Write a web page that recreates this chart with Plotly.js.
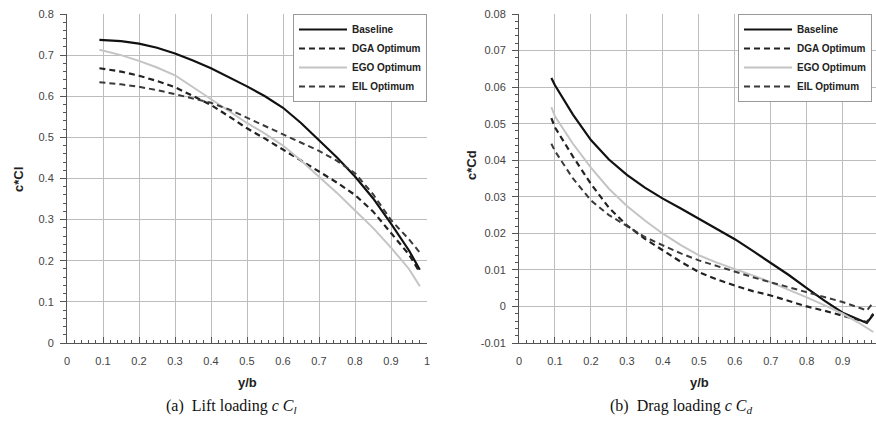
<!DOCTYPE html>
<html>
<head>
<meta charset="utf-8">
<script src="https://cdn.plot.ly/plotly-3.0.1.min.js"></script>
<style>html,body{margin:0;padding:0;background:#fff;overflow:hidden;}#chart{width:876px;height:426px;}</style>
</head>
<body>
<div id="chart"></div>
<script>
// ---------- Data: (a) Lift loading c*Cl ----------
const liftX = [0.09,0.15,0.2,0.25,0.3,0.35,0.4,0.45,0.5,0.55,0.6,0.65,0.7,0.75,0.8,0.85,0.9,0.95,0.98];
const liftBaseline = [0.737,0.734,0.728,0.718,0.704,0.687,0.668,0.647,0.624,0.600,0.572,0.535,0.494,0.451,0.405,0.352,0.290,0.225,0.178];
const liftDGA      = [0.668,0.660,0.650,0.637,0.622,0.601,0.579,0.551,0.522,0.497,0.471,0.445,0.417,0.390,0.360,0.320,0.268,0.215,0.172];
const liftEGO      = [0.713,0.700,0.686,0.670,0.651,0.622,0.592,0.563,0.535,0.509,0.480,0.444,0.405,0.365,0.322,0.280,0.232,0.180,0.138];
const liftEIL      = [0.634,0.629,0.623,0.615,0.605,0.595,0.584,0.568,0.548,0.527,0.507,0.488,0.467,0.443,0.413,0.362,0.299,0.252,0.220];

// ---------- Data: (b) Drag loading c*Cd ----------
const dragX = [0.09,0.1,0.15,0.2,0.25,0.3,0.35,0.4,0.45,0.5,0.55,0.6,0.65,0.7,0.75,0.8,0.85,0.9,0.95,0.967,0.985];
const dragBaseline = [0.0625,0.0605,0.0525,0.0455,0.0402,0.0360,0.0325,0.0295,0.0268,0.0240,0.0212,0.0184,0.0152,0.0120,0.0086,0.0050,0.0015,-0.0017,-0.0038,-0.0045,-0.0022];
const dragDGA      = [0.0515,0.0490,0.0410,0.0335,0.0270,0.0222,0.0185,0.0153,0.0122,0.0094,0.0074,0.0057,0.0042,0.0030,0.0015,0.0000,-0.0012,-0.0025,-0.0038,-0.0043,-0.0020];
const dragEGO      = [0.0545,0.0520,0.0445,0.0380,0.0322,0.0275,0.0235,0.0199,0.0168,0.0140,0.0120,0.0103,0.0085,0.0066,0.0046,0.0025,0.0003,-0.0020,-0.0048,-0.0058,-0.0070];
const dragEIL      = [0.0445,0.0425,0.0350,0.0290,0.0250,0.0220,0.0190,0.0167,0.0145,0.0126,0.0110,0.0094,0.0080,0.0066,0.0052,0.0039,0.0025,0.0012,-0.0005,-0.0011,0.0011];

// ---------- Names and tick labels ----------
const seriesNames = ["Baseline","DGA Optimum","EGO Optimum","EIL Optimum"];
const liftTickVals = [0,0.1,0.2,0.3,0.4,0.5,0.6,0.7,0.8];
const liftTickText = ["0","0.1","0.2","0.3","0.4","0.5","0.6","0.7","0.8"];
const dragTickVals = [-0.01,0,0.01,0.02,0.03,0.04,0.05,0.06,0.07,0.08];
const dragTickText = ["-0.01","0","0.01","0.02","0.03","0.04","0.05","0.06","0.07","0.08"];
const xTickVals = [0,0.1,0.2,0.3,0.4,0.5,0.6,0.7,0.8,0.9,1];
const xTickText = ["0","0.1","0.2","0.3","0.4","0.5","0.6","0.7","0.8","0.9","1"];

const styles = [
  {color:"#111111", width:2.2, dash:"solid"},
  {color:"#222222", width:2.2, dash:"6px,4px"},
  {color:"#c4c4c4", width:2, dash:"solid"},
  {color:"#3a3a3a", width:2, dash:"6px,4px"}
];

const liftSeries = [liftBaseline, liftDGA, liftEGO, liftEIL];
const dragSeries = [dragBaseline, dragDGA, dragEGO, dragEIL];

const traces = [];
liftSeries.forEach((ys,i)=>traces.push({
  x: liftX, y: ys, type:"scatter", mode:"lines", name: seriesNames[i],
  line: styles[i], xaxis:"x", yaxis:"y", legend:"legend"
}));
dragSeries.forEach((ys,i)=>traces.push({
  x: dragX, y: ys, type:"scatter", mode:"lines", name: seriesNames[i],
  line: styles[i], xaxis:"x2", yaxis:"y2", legend:"legend2"
}));

const W = 876, H = 426;
const tickFont = {family:"Liberation Sans, Arial, sans-serif", size:11, color:"#444"};
const gridColor = "#bdbdbd";
const axisLine = "#555";

function xAxis(domain, range){
  return {
    domain: domain, range: range, tickvals: xTickVals, ticktext: xTickText,
    showgrid:true, gridcolor:gridColor, gridwidth:1, zeroline:false,
    showline:true, linecolor:axisLine, linewidth:1,
    ticks:"inside", ticklen:6, tickcolor:axisLine, tickfont: tickFont,
    ticklabelstandoff: 8,
    minor:{ticks:"inside", dtick:0.02, ticklen:3, tickcolor:axisLine, showgrid:false},
    fixedrange:true
  };
}
function yAxis(domain, range, tv, tt, minorStep, anchor){
  return {
    domain: domain, range: range, tickvals: tv, ticktext: tt, anchor: anchor,
    showgrid:true, gridcolor:gridColor, gridwidth:1, zeroline:false,
    showline:true, linecolor:axisLine, linewidth:1,
    ticks:"outside", ticklen:6, tickcolor:axisLine, tickfont: tickFont,
    ticklabelstandoff: 4,
    minor:{ticks:"outside", dtick:minorStep, ticklen:3, tickcolor:axisLine, showgrid:false},
    fixedrange:true
  };
}

const yDom = [(H-343)/H, (H-14)/H];
const legendFont = {family:"Liberation Sans, Arial, sans-serif", size:10, color:"#222", weight:"bold"};
const titleFont = {family:"Liberation Sans, Arial, sans-serif", size:13, color:"#222", weight:"bold"};
const capFont = {family:"Liberation Serif, Times New Roman, serif", size:16, color:"#111"};

const layout = {
  width: W, height: H,
  margin:{l:0,r:0,t:0,b:0, autoexpand:false},
  paper_bgcolor:"#fff", plot_bgcolor:"#fff",
  showlegend:true,
  xaxis: xAxis([67/W, 427/W], [0,1]),
  yaxis: yAxis(yDom, [0,0.8], liftTickVals, liftTickText, 0.02, "x"),
  xaxis2: Object.assign(xAxis([519/W, 1], [0,0.9925]), {anchor:"y2"}),
  yaxis2: yAxis(yDom, [-0.01,0.08], dragTickVals, dragTickText, 0.002, "x2"),
  legend:{x:427/W, xanchor:"right", y:yDom[1], yanchor:"top", xref:"paper", yref:"paper",
    bgcolor:"#fff", bordercolor:"#999", borderwidth:1, font:legendFont, tracegroupgap:0, itemwidth:48},
  legend2:{x:738/W, xanchor:"left", y:yDom[1], yanchor:"top", xref:"paper", yref:"paper",
    bgcolor:"#fff", bordercolor:"#999", borderwidth:1, font:legendFont, tracegroupgap:0, itemwidth:48},
  annotations:[
    {text:"c*Cl", xref:"paper", yref:"paper", x:18/W, y:(H-180)/H, textangle:-90, showarrow:false, font:titleFont, xanchor:"center", yanchor:"middle"},
    {text:"c*Cd", xref:"paper", yref:"paper", x:471/W, y:(H-165)/H, textangle:-90, showarrow:false, font:titleFont, xanchor:"center", yanchor:"middle"},
    {text:"y/b", xref:"paper", yref:"paper", x:247/W, y:(H-382)/H, showarrow:false, font:titleFont, xanchor:"center", yanchor:"middle"},
    {text:"y/b", xref:"paper", yref:"paper", x:699/W, y:(H-382)/H, showarrow:false, font:titleFont, xanchor:"center", yanchor:"middle"},
    {text:"(a)  Lift loading <i>c C<sub>l</sub></i>", xref:"paper", yref:"paper", x:231/W, y:(H-406)/H, showarrow:false, font:capFont, xanchor:"center", yanchor:"middle"},
    {text:"(b)  Drag loading <i>c C<sub>d</sub></i>", xref:"paper", yref:"paper", x:681/W, y:(H-406)/H, showarrow:false, font:capFont, xanchor:"center", yanchor:"middle"}
  ]
};

Plotly.newPlot("chart", traces, layout, {staticPlot:true, displayModeBar:false});
</script>
</body>
</html>
